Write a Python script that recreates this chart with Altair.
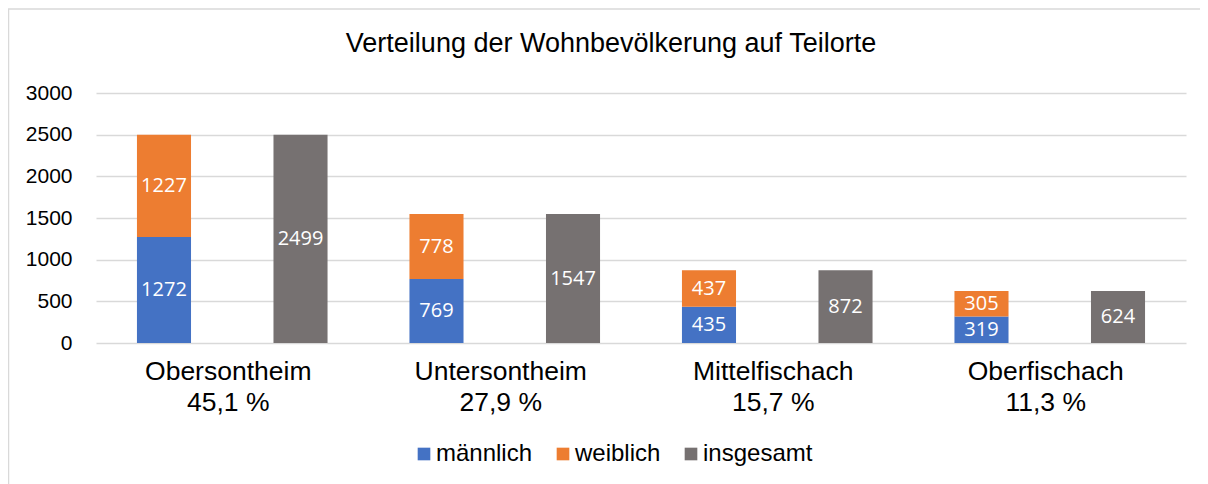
import altair as alt
import pandas as pd

categories = ["Obersontheim", "Untersontheim", "Mittelfischach", "Oberfischach"]
shares = ["45,1 %", "27,9 %", "15,7 %", "11,3 %"]
maennlich = [1272, 769, 435, 319]
weiblich = [1227, 778, 437, 305]
insgesamt = [2499, 1547, 872, 624]
series = ["männlich", "weiblich", "insgesamt"]
colors = ["#4472C4", "#ED7D31", "#767171"]
y_ticks = [0, 500, 1000, 1500, 2000, 2500, 3000]

labels = [c + "|" + s for c, s in zip(categories, shares)]
rows = []
for i, lab in enumerate(labels):
    rows.append(dict(cat=lab, grp="A", serie=series[0], ord=0, value=maennlich[i]))
    rows.append(dict(cat=lab, grp="A", serie=series[1], ord=1, value=weiblich[i]))
    rows.append(dict(cat=lab, grp="B", serie=series[2], ord=2, value=insgesamt[i]))
df = pd.DataFrame(rows)

base = alt.Chart(df).transform_stack(
    stack="value", groupby=["cat", "grp"], as_=["v0", "v1"],
    sort=[alt.SortField("ord", order="ascending")]
).transform_calculate(mid="(datum.v0 + datum.v1) / 2")

x_enc = alt.X(
    "cat:N", sort=labels,
    scale=alt.Scale(paddingInner=0, paddingOuter=0),
    axis=alt.Axis(title=None, labelExpr="split(datum.label, '|')", labelAngle=0,
                  ticks=False, domain=False, grid=False, labelFontSize=26.5,
                  labelFont="Liberation Sans", labelColor="#000000",
                  labelPadding=15, labelLineHeight=31, labelBaseline="top",
                  labelOffset=-4),
)
xo_enc = alt.XOffset("grp:N", scale=alt.Scale(paddingInner=0.604, paddingOuter=0.3))
y_scale = alt.Scale(domain=[0, 3000], nice=False)
y_axis = alt.Axis(title=None, values=y_ticks, format="d", ticks=False, domain=False,
                  gridColor="#D9D9D9", gridWidth=1.5, labelFontSize=21,
                  labelFont="Liberation Sans", labelColor="#000000", labelPadding=24)

bars = base.mark_bar().encode(
    x=x_enc,
    xOffset=xo_enc,
    y=alt.Y("v0:Q", scale=y_scale, axis=y_axis),
    y2="v1:Q",
    color=alt.Color(
        "serie:N",
        scale=alt.Scale(domain=series, range=colors),
        legend=alt.Legend(
            title=None, orient="none", direction="horizontal",
            legendX=316, legendY=349, symbolType="square", symbolSize=160,
            symbolStrokeWidth=0, labelFontSize=24, labelFont="Liberation Sans",
            labelColor="#000000", labelOffset=0, columnPadding=18, padding=0,
        ),
    ),
)

texts = base.mark_text(color="white", font="Open Sans", fontSize=20, baseline="middle").encode(
    x=x_enc,
    xOffset=xo_enc,
    y=alt.Y("mid:Q", scale=y_scale, axis=y_axis),
    text=alt.Text("value:Q"),
)

frame = alt.Chart(pd.DataFrame({"a": [0]})).mark_rect(
    filled=False, stroke="#D9D9D9", strokeWidth=1.5
).encode(x=alt.value(-87.5), x2=alt.value(1130), y=alt.value(-84), y2=alt.value(420))

chart = alt.layer(frame, bars, texts).properties(
    width=1090, height=250,
    autosize=alt.AutoSizeParams(type="none"),
    padding={"left": 88, "top": 85, "right": 14, "bottom": 141},
    title=alt.TitleParams(
        "Verteilung der Wohnbevölkerung auf Teilorte",
        fontSize=27, font="Liberation Sans", fontWeight="normal", color="#000000",
        anchor="middle", dx=-30, offset=-50,
    ),
).configure_view(stroke=None)

chart.save("out.html", embed_options={"renderer": "svg", "actions": False})
